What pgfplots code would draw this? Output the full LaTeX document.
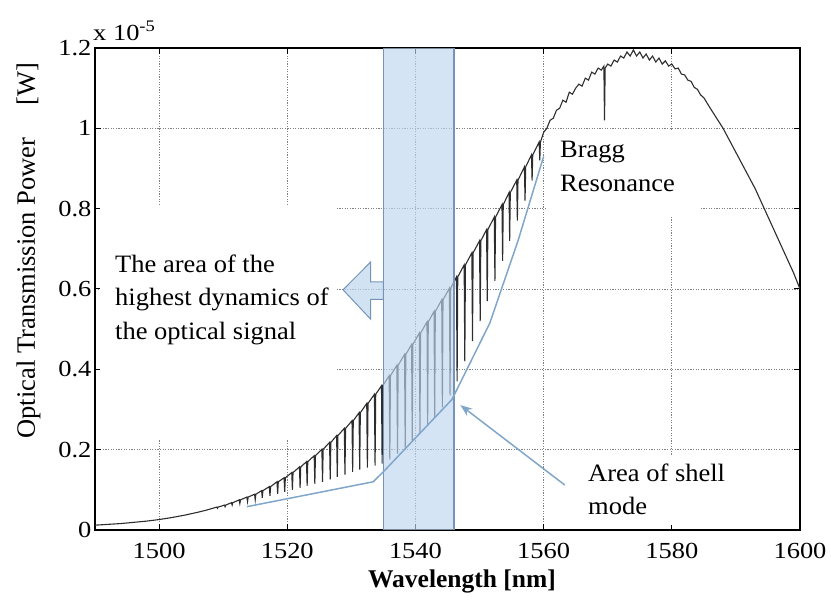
\documentclass[border=0pt]{standalone}
\usepackage{pgfplots}
\pgfplotsset{compat=1.18}
\usetikzlibrary{arrows.meta}
\usepackage{fontspec}
\setmainfont{Liberation Serif}
\usepackage{graphicx}

\definecolor{bandfill}{RGB}{190,214,238}
\definecolor{bandedge}{RGB}{118,148,184}
\definecolor{annblue}{RGB}{128,166,202}
\definecolor{curve}{RGB}{45,45,45}

\newcommand\tl[1]{\scalebox{1.15}[1]{#1}}
\newcommand\ann[1]{\scalebox{1.06}[1]{#1}}

\begin{document}
\begin{tikzpicture}
\useasboundingbox (-95pt,-74pt) rectangle (736pt,530pt);
\begin{axis}[
    at={(0,0)}, anchor=south west,
    scale only axis, width=705pt, height=482pt,
    xmin=1490, xmax=1600, ymin=0, ymax=1.2,
    xtick={1500,1520,1540,1560,1580,1600},
    xticklabels={\tl{1500},\tl{1520},\tl{1540},\tl{1560},\tl{1580},\tl{1600}},
    ytick={0,0.2,0.4,0.6,0.8,1,1.2},
    yticklabels={\tl{0},\tl{0.2},\tl{0.4},\tl{0.6},\tl{0.8},\tl{1},\tl{1.2}},
    tick label style={font=\fontsize{23}{27}\selectfont},
    xticklabel style={yshift=-10pt},
    grid=major,
    major grid style={black!50, line width=0.8pt, dash pattern=on 1.2pt off 1.4pt},
    axis line style={line width=1.4pt},
    tick style={black, line width=1pt},
    major tick length=6pt,
    tick align=inside,
]

% white text boxes that hide the grid
\fill[white] (axis cs:1490.8,0.224) rectangle (axis cs:1527.4,0.809);
\fill[white] (axis cs:1560.5,0.779) rectangle (axis cs:1584.4,0.996);
\fill[white] (axis cs:1563.3,0.012) rectangle (axis cs:1598.4,0.187);

\addplot[curve, line width=1.1pt] coordinates {
(1490,0.012) (1492,0.014) (1494,0.016) (1496,0.019) (1498,0.022) (1500,0.026)
(1502,0.031) (1504,0.037) (1506,0.044) (1507.5,0.050)
(1509.0,0.057) (1509.1,0.054) (1509.2,0.057)
(1510.2,0.062) (1510.3,0.058) (1510.4,0.062)
(1511.3,0.068) (1511.4,0.062) (1511.5,0.068)
(1512.5,0.075) (1512.6,0.066) (1512.7,0.075)
(1513.7,0.082) (1513.8,0.071) (1513.9,0.082)
(1514.9,0.089) (1515.0,0.075) (1515.1,0.089)
(1516.0,0.098) (1516.1,0.080) (1516.2,0.098)
(1517.2,0.108) (1517.3,0.085) (1517.4,0.108)
(1518.4,0.120) (1518.5,0.090) (1518.6,0.120)
(1519.5,0.130) (1519.6,0.095) (1519.7,0.130)
(1520.7,0.143) (1520.8,0.100) (1520.9,0.143)
(1521.9,0.157) (1522.0,0.105) (1522.1,0.157)
(1523.0,0.170) (1523.1,0.110) (1523.2,0.170)
(1524.2,0.185) (1524.3,0.115) (1524.4,0.185)
(1525.4,0.201) (1525.5,0.120) (1525.6,0.201)
(1526.6,0.218) (1526.7,0.126) (1526.8,0.218)
(1527.7,0.235) (1527.8,0.132) (1527.9,0.235)
(1528.9,0.253) (1529.0,0.138) (1529.1,0.253)
(1530.1,0.272) (1530.2,0.145) (1530.3,0.272)
(1531.2,0.292) (1531.3,0.150) (1531.4,0.292)
(1532.4,0.315) (1532.5,0.155) (1532.6,0.315)
(1533.6,0.338) (1533.7,0.160) (1533.8,0.338)
(1534.7,0.359) (1534.8,0.165) (1534.9,0.359)
(1535.9,0.384) (1536.0,0.175) (1536.1,0.384)
(1537.1,0.410) (1537.2,0.190) (1537.3,0.410)
(1538.3,0.437) (1538.4,0.205) (1538.5,0.437)
(1539.4,0.462) (1539.5,0.220) (1539.6,0.462)
(1540.6,0.490) (1540.7,0.240) (1540.8,0.490)
(1541.8,0.518) (1541.9,0.260) (1542.0,0.518)
(1542.9,0.544) (1543.0,0.280) (1543.1,0.544)
(1544.1,0.573) (1544.2,0.305) (1544.3,0.573)
(1545.3,0.602) (1545.4,0.335) (1545.5,0.602)
(1546.4,0.630) (1546.5,0.370) (1546.6,0.630)
(1547.6,0.660) (1547.7,0.420) (1547.8,0.660)
(1548.8,0.690) (1548.9,0.470) (1549.0,0.690)
(1550.0,0.720) (1550.1,0.520) (1550.2,0.720)
(1551.1,0.748) (1551.2,0.570) (1551.3,0.748)
(1552.3,0.779) (1552.4,0.620) (1552.5,0.779)
(1553.5,0.810) (1553.6,0.670) (1553.7,0.810)
(1554.6,0.840) (1554.7,0.720) (1554.8,0.840)
(1555.8,0.871) (1555.9,0.770) (1556.0,0.871)
(1557.0,0.904) (1557.1,0.820) (1557.2,0.904)
(1558.1,0.934) (1558.2,0.870) (1558.3,0.934)
(1559.3,0.966) (1559.4,0.920) (1559.5,0.966)
(1560.0,0.990) (1560.5,1.000) (1561.0,1.020) (1561.5,1.025) (1562.0,1.045)
(1562.5,1.050) (1563.0,1.070) (1563.5,1.065) (1564.0,1.090) (1564.5,1.085)
(1565.0,1.100) (1565.5,1.110) (1566.0,1.105) (1566.5,1.125) (1567.0,1.120)
(1567.5,1.140) (1568.0,1.135) (1568.5,1.150) (1569.0,1.145) (1569.4,1.155)
(1569.5,1.020) (1569.6,1.150) (1570.0,1.160) (1570.5,1.155) (1571.0,1.170)
(1571.5,1.165) (1572.0,1.180) (1572.5,1.175) (1573.0,1.190) (1573.5,1.180)
(1574.0,1.195) (1574.5,1.180) (1575.0,1.190) (1575.5,1.175) (1576.0,1.185)
(1576.5,1.170) (1577.0,1.180) (1577.5,1.165) (1578.0,1.175) (1578.5,1.160)
(1579.0,1.168) (1579.5,1.155) (1580.0,1.160) (1580.5,1.148) (1581.0,1.150)
(1581.5,1.135) (1582.0,1.133) (1582.5,1.120) (1583.0,1.117) (1583.5,1.102)
(1584.0,1.097) (1584.5,1.083) (1585.0,1.076) (1586.0,1.050) (1587.0,1.025)
(1588.0,1.000) (1589.0,0.970) (1590.0,0.940) (1591.0,0.910) (1592.0,0.880)
(1593.0,0.850) (1594.0,0.815) (1595.0,0.780) (1596.0,0.745) (1597.0,0.710)
(1598.0,0.675) (1599.0,0.640) (1600.0,0.600)
};

% shaded band of highest dynamics
\fill[bandfill, fill opacity=0.65] (axis cs:1535,0) rectangle (axis cs:1546,1.2);
\draw[bandedge, line width=1.2pt] (axis cs:1535,0) -- (axis cs:1535,1.2)
    (axis cs:1546,0) -- (axis cs:1546,1.2);

% hollow block arrow pointing left
\draw[bandedge, line width=1pt, fill=bandfill, fill opacity=0.7]
  (axis cs:1528.7,0.598) -- (axis cs:1533.0,0.667) -- (axis cs:1533.0,0.618)
  -- (axis cs:1535,0.618) -- (axis cs:1535,0.574) -- (axis cs:1533.0,0.574)
  -- (axis cs:1533.0,0.525) -- cycle;

% shell mode boundary
\draw[annblue, line width=1.5pt] (axis cs:1513.7,0.058) -- (axis cs:1533.4,0.120)
  -- (axis cs:1535.0,0.145) -- (axis cs:1545.7,0.325) -- (axis cs:1551.6,0.515)
  -- (axis cs:1556.0,0.720) -- (axis cs:1560.0,0.930);
\draw[annblue, line width=1.5pt, -{Stealth[length=12pt,width=9pt]}]
  (axis cs:1563.3,0.112) -- (axis cs:1547.0,0.311);
\end{axis}

\begin{scope}[font=\fontsize{25}{30}\selectfont]
\node[anchor=base west, inner sep=0] at (20pt,257pt) {\ann{The area of the}};
\node[anchor=base west, inner sep=0] at (20pt,224pt) {\ann{highest dynamics of}};
\node[anchor=base west, inner sep=0] at (20pt,190pt) {\ann{the optical signal}};
\node[anchor=base west, inner sep=0] at (465pt,372pt) {\ann{Bragg}};
\node[anchor=base west, inner sep=0] at (465pt,338pt) {\ann{Resonance}};
\node[anchor=base west, inner sep=0] at (493pt,48pt) {\ann{Area of shell}};
\node[anchor=base west, inner sep=0] at (493pt,15pt) {\ann{mode}};
\end{scope}

\node[anchor=base, inner sep=0, font=\fontsize{25.5}{30}\selectfont\bfseries]
  at (367pt,-58pt) {Wavelength [nm]};
\node[anchor=base, inner sep=0, rotate=90, font=\fontsize{26.5}{30}\selectfont]
  at (-60pt,242pt) {Optical Transmission Power};
\node[anchor=base, inner sep=0, rotate=90, font=\fontsize{26.5}{30}\selectfont]
  at (-60pt,446pt) {[W]};
\node[anchor=base west, inner sep=0, font=\fontsize{23}{27}\selectfont]
  at (-2pt,489pt) {\tl{x 10\textsuperscript{-5}}};
\end{tikzpicture}
\end{document}
